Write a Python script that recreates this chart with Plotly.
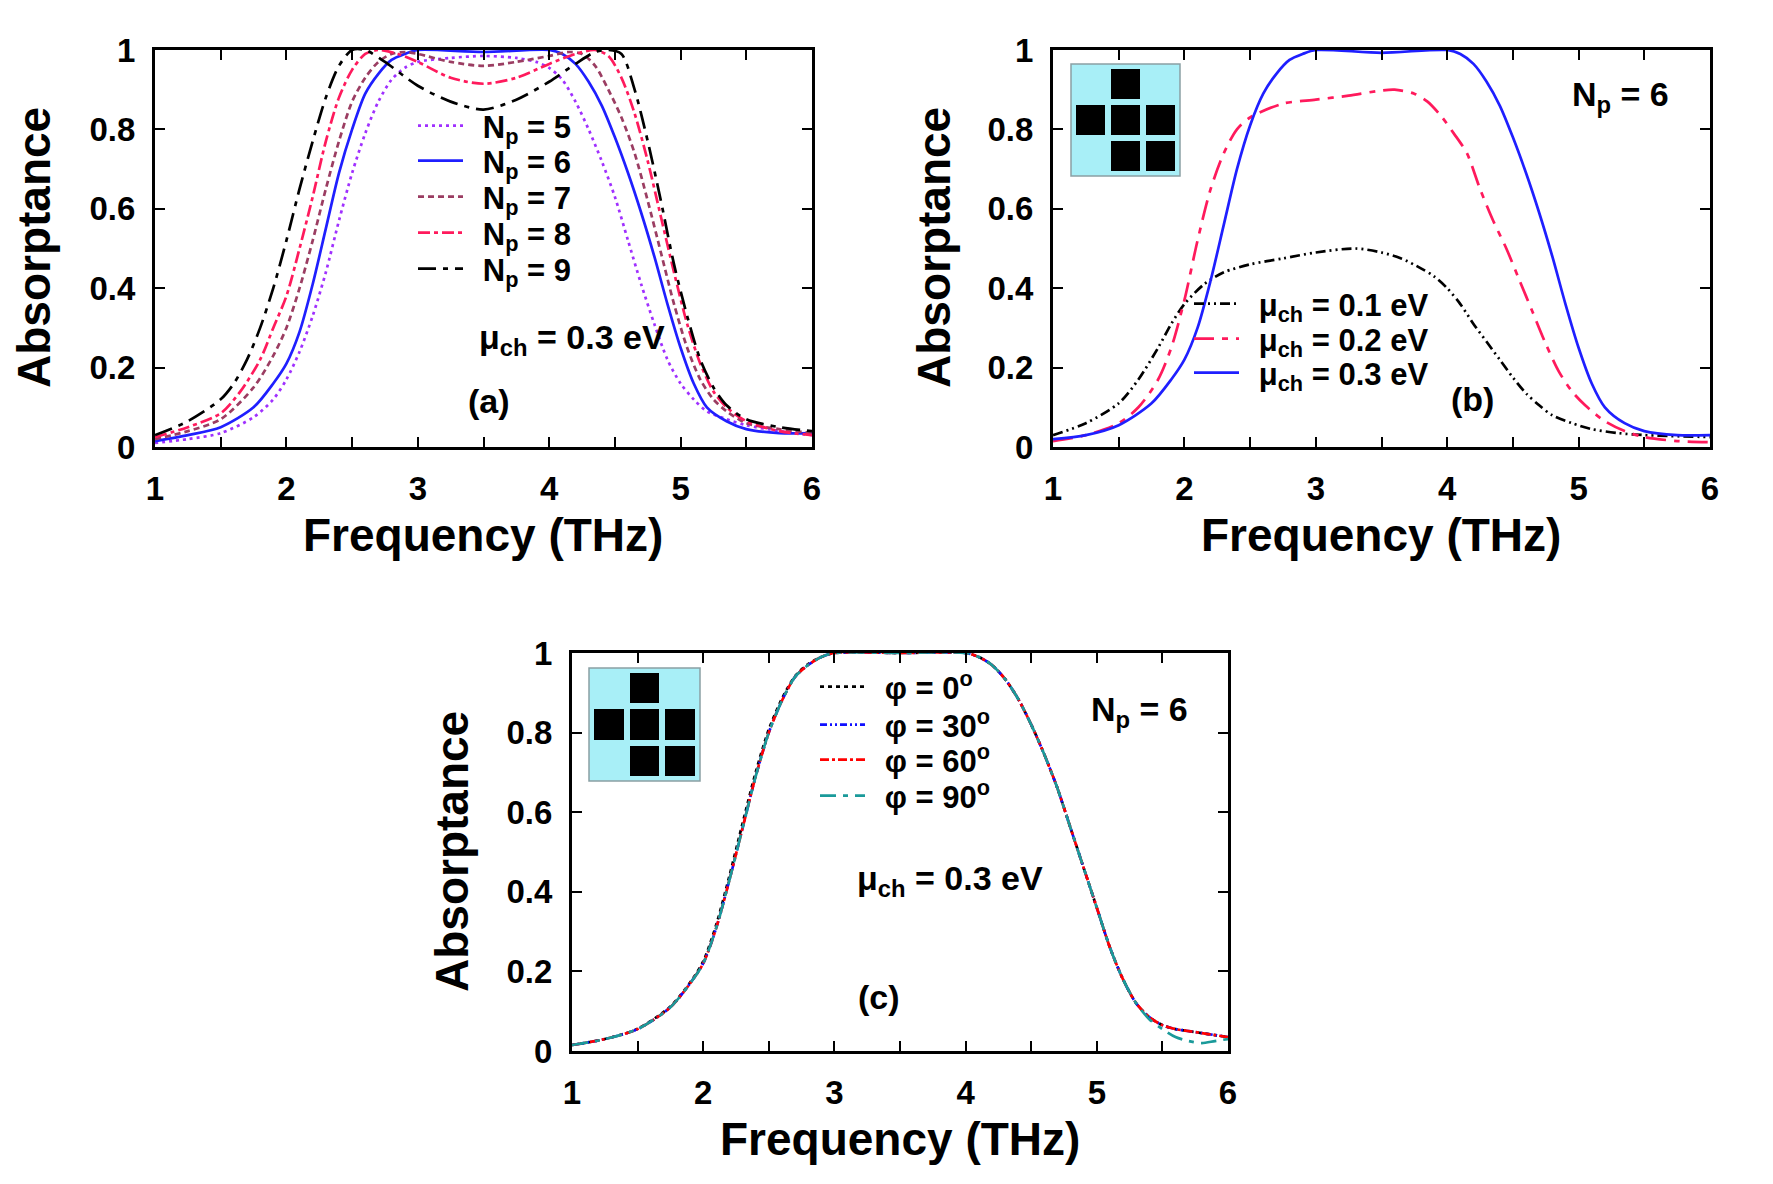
import plotly.graph_objects as go

W, H = 1773, 1184
FONT = "Liberation Sans, Arial, Helvetica, sans-serif"

# ---------------- Panel (a): N_p = 5..9, mu_ch = 0.3 eV ----------------
a_np5_f = [1.0, 1.25, 1.5, 1.75, 1.9, 2.0, 2.1, 2.2, 2.3, 2.4, 2.5, 2.6, 2.7, 2.8, 2.9, 3.0, 3.25, 3.5, 3.75, 3.9, 4.0, 4.1, 4.2, 4.3, 4.4, 4.5, 4.6, 4.7, 4.8, 4.9, 5.0, 5.1, 5.2, 5.35, 5.5, 5.75, 6.0]
a_np5_A = [0.01, 0.02, 0.035, 0.075, 0.12, 0.17, 0.24, 0.33, 0.44, 0.57, 0.69, 0.79, 0.87, 0.925, 0.955, 0.97, 0.98, 0.985, 0.98, 0.97, 0.955, 0.925, 0.87, 0.8, 0.72, 0.63, 0.52, 0.41, 0.31, 0.22, 0.16, 0.12, 0.09, 0.07, 0.055, 0.04, 0.03]

a_np6_f = [1.0, 1.25, 1.5, 1.75, 1.9, 2.0, 2.1, 2.2, 2.3, 2.4, 2.5, 2.6, 2.7, 2.8, 2.9, 3.0, 3.5, 4.0, 4.1, 4.2, 4.3, 4.4, 4.5, 4.6, 4.7, 4.8, 4.9, 5.0, 5.1, 5.2, 5.35, 5.5, 5.75, 6.0]
a_np6_A = [0.015, 0.03, 0.05, 0.1, 0.16, 0.21, 0.29, 0.41, 0.55, 0.69, 0.8, 0.89, 0.94, 0.975, 0.99, 1.0, 0.995, 1.0, 0.99, 0.965, 0.92, 0.86, 0.78, 0.69, 0.59, 0.48, 0.36, 0.25, 0.16, 0.1, 0.065, 0.045, 0.035, 0.035]

a_np7_f = [1.0, 1.25, 1.5, 1.75, 1.9, 2.0, 2.1, 2.2, 2.3, 2.4, 2.5, 2.6, 2.7, 2.8, 2.9, 3.0, 3.25, 3.5, 3.75, 4.0, 4.15, 4.25, 4.35, 4.45, 4.55, 4.65, 4.75, 4.85, 4.95, 5.05, 5.15, 5.25, 5.35, 5.5, 5.75, 6.0]
a_np7_A = [0.02, 0.04, 0.07, 0.15, 0.23, 0.3, 0.4, 0.52, 0.65, 0.77, 0.87, 0.93, 0.97, 0.99, 0.995, 0.99, 0.97, 0.96, 0.97, 0.985, 0.995, 0.99, 0.96, 0.9, 0.83, 0.74, 0.62, 0.49, 0.36, 0.25, 0.17, 0.12, 0.09, 0.06, 0.045, 0.035]

a_np8_f = [1.0, 1.25, 1.5, 1.65, 1.8, 1.9, 2.0, 2.1, 2.2, 2.3, 2.4, 2.5, 2.6, 2.7, 2.85, 3.0, 3.25, 3.5, 3.75, 4.0, 4.2, 4.35, 4.45, 4.55, 4.65, 4.75, 4.85, 4.95, 5.05, 5.15, 5.25, 5.35, 5.5, 5.75, 6.0]
a_np8_A = [0.025, 0.05, 0.085, 0.14, 0.22, 0.3, 0.38, 0.5, 0.63, 0.77, 0.88, 0.95, 0.99, 1.0, 0.99, 0.97, 0.93, 0.915, 0.93, 0.965, 0.99, 1.0, 0.985, 0.93, 0.84, 0.72, 0.58, 0.44, 0.31, 0.21, 0.14, 0.1, 0.065, 0.04, 0.03]

a_np9_f = [1.0, 1.25, 1.5, 1.6, 1.7, 1.8, 1.9, 2.0, 2.1, 2.2, 2.3, 2.4, 2.5, 2.6, 2.75, 3.0, 3.25, 3.5, 3.75, 4.0, 4.2, 4.35, 4.45, 4.55, 4.65, 4.75, 4.85, 4.95, 5.05, 5.15, 5.25, 5.35, 5.5, 5.75, 6.0]
a_np9_A = [0.03, 0.065, 0.12, 0.16, 0.22, 0.3, 0.4, 0.52, 0.65, 0.77, 0.88, 0.96, 1.0, 1.0, 0.97, 0.91, 0.87, 0.85, 0.875, 0.92, 0.965, 0.995, 1.0, 0.99, 0.9, 0.77, 0.62, 0.46, 0.33, 0.22, 0.15, 0.105, 0.07, 0.05, 0.04]

# ---------------- Panel (b): N_p = 6, mu_ch = 0.1 / 0.2 / 0.3 eV ----------------
b_mu1_f = [1.0, 1.25, 1.5, 1.65, 1.8, 1.9, 2.0, 2.15, 2.3, 2.5, 2.75, 3.0, 3.3, 3.5, 3.65, 3.8, 3.9, 4.0, 4.1, 4.2, 4.3, 4.4, 4.5, 4.6, 4.7, 4.8, 4.95, 5.1, 5.3, 5.5, 6.0]
b_mu1_A = [0.03, 0.06, 0.11, 0.17, 0.25, 0.31, 0.36, 0.41, 0.44, 0.46, 0.475, 0.49, 0.5, 0.49, 0.475, 0.45, 0.43, 0.4, 0.36, 0.31, 0.265, 0.22, 0.175, 0.135, 0.105, 0.08, 0.06, 0.045, 0.035, 0.03, 0.025]

b_mu2_f = [1.0, 1.25, 1.5, 1.65, 1.8, 1.9, 2.0, 2.1, 2.2, 2.3, 2.4, 2.5, 2.75, 3.0, 3.25, 3.5, 3.6, 3.75, 3.85, 3.95, 4.05, 4.15, 4.25, 4.35, 4.45, 4.55, 4.65, 4.75, 4.85, 4.95, 5.05, 5.2, 5.35, 5.5, 5.75, 6.0]
b_mu2_A = [0.015, 0.03, 0.06, 0.1, 0.17, 0.25, 0.37, 0.52, 0.65, 0.74, 0.8, 0.83, 0.865, 0.875, 0.885, 0.898, 0.9, 0.89, 0.87, 0.835, 0.79, 0.74, 0.65, 0.57, 0.5, 0.42, 0.34, 0.26, 0.19, 0.14, 0.105, 0.065, 0.04, 0.025, 0.015, 0.012]

b_mu3_f = [1.0, 1.25, 1.5, 1.75, 1.9, 2.0, 2.1, 2.2, 2.3, 2.4, 2.5, 2.6, 2.7, 2.8, 2.9, 3.0, 3.5, 4.0, 4.1, 4.2, 4.3, 4.4, 4.5, 4.6, 4.7, 4.8, 4.9, 5.0, 5.1, 5.2, 5.35, 5.5, 5.75, 6.0]
b_mu3_A = [0.02, 0.03, 0.055, 0.11, 0.17, 0.22, 0.3, 0.42, 0.56, 0.7, 0.81, 0.89, 0.94, 0.975, 0.99, 1.0, 0.993, 1.0, 0.99, 0.965, 0.92, 0.86, 0.78, 0.69, 0.59, 0.48, 0.36, 0.25, 0.16, 0.1, 0.06, 0.04, 0.03, 0.03]

# ---------------- Panel (c): N_p = 6, mu_ch = 0.3 eV, phi = 0/30/60/90 deg ----------------
c_f = [1.0, 1.25, 1.5, 1.75, 1.9, 2.0, 2.1, 2.2, 2.3, 2.4, 2.5, 2.6, 2.7, 2.8, 2.9, 3.0, 3.5, 4.0, 4.1, 4.2, 4.3, 4.4, 4.5, 4.6, 4.7, 4.8, 4.9, 5.0, 5.1, 5.2, 5.3, 5.4, 5.5, 5.6, 5.7, 5.8, 5.9, 6.0]
c_phi0_A = [0.015, 0.03, 0.056, 0.112, 0.172, 0.225, 0.318, 0.44, 0.572, 0.7, 0.808, 0.885, 0.942, 0.972, 0.99, 1.0, 1.0, 1.0, 0.99, 0.97, 0.935, 0.885, 0.82, 0.745, 0.66, 0.56, 0.46, 0.36, 0.26, 0.18, 0.12, 0.085, 0.065, 0.055, 0.05, 0.045, 0.04, 0.035]
c_phi30_A = [0.015, 0.03, 0.055, 0.11, 0.17, 0.22, 0.31, 0.43, 0.56, 0.69, 0.8, 0.88, 0.94, 0.97, 0.99, 1.0, 1.0, 1.0, 0.99, 0.97, 0.935, 0.885, 0.82, 0.745, 0.66, 0.56, 0.46, 0.36, 0.26, 0.18, 0.12, 0.085, 0.065, 0.055, 0.05, 0.045, 0.04, 0.035]
c_phi60_A = [0.015, 0.03, 0.055, 0.11, 0.17, 0.22, 0.31, 0.43, 0.56, 0.69, 0.8, 0.88, 0.94, 0.97, 0.99, 1.0, 1.0, 1.0, 0.99, 0.97, 0.935, 0.885, 0.82, 0.745, 0.66, 0.56, 0.46, 0.36, 0.26, 0.18, 0.12, 0.085, 0.065, 0.055, 0.05, 0.045, 0.04, 0.035]
c_phi90_A = [0.015, 0.03, 0.055, 0.11, 0.17, 0.22, 0.31, 0.43, 0.56, 0.69, 0.8, 0.88, 0.94, 0.97, 0.99, 1.0, 1.0, 1.0, 0.99, 0.97, 0.935, 0.885, 0.82, 0.745, 0.66, 0.56, 0.46, 0.36, 0.26, 0.18, 0.12, 0.08, 0.055, 0.035, 0.025, 0.02, 0.025, 0.03]

# unit-cell pattern of the inset (1 = graphene patch)
pattern = [[0, 1, 0],
           [1, 1, 1],
           [0, 1, 1]]

x_tickvals = [1, 1.5, 2, 2.5, 3, 3.5, 4, 4.5, 5, 5.5, 6]
x_ticktext = ["1", "", "2", "", "3", "", "4", "", "5", "", "6"]
y_tickvals = [0, 0.2, 0.4, 0.6, 0.8, 1]
y_ticktext = ["0", "0.2", "0.4", "0.6", "0.8", "1"]

CRIMSON = "#ff1a5c"
BLUE = "#1f1fff"
VIOLET = "#a030ff"
MAUVE = "#9b3d62"
TEAL = "#1a9a9a"


def px_x(x):
    return x / W


def px_y(y):
    return 1 - y / H


fig = go.Figure()
legend_defs = []
GAP = "\u00a0\u2009"
legend_font = dict(family=FONT, size=31, color="black", weight="bold")


def add_line(f, A, name, color, dash, xa, ya, lx, ly, width=2.7):
    lid = "legend" if not legend_defs else "legend%d" % (len(legend_defs) + 1)
    legend_defs.append((lid, lx, ly))
    fig.add_trace(go.Scatter(
        x=f, y=A, mode="lines", name=GAP + name,
        line=dict(color=color, dash=dash, width=width, shape="spline", smoothing=0.8),
        xaxis=xa, yaxis=ya, legend=lid))


# panel a (legend rows in pixels)
add_line(a_np5_f, a_np5_A, "N<sub>p</sub> = 5", VIOLET, "3px,4px", "x", "y", 413, 126)
add_line(a_np6_f, a_np6_A, "N<sub>p</sub> = 6", BLUE, "solid", "x", "y", 413, 161)
add_line(a_np7_f, a_np7_A, "N<sub>p</sub> = 7", MAUVE, "6px,4px", "x", "y", 413, 197)
add_line(a_np8_f, a_np8_A, "N<sub>p</sub> = 8", CRIMSON, "12px,4px,4px,4px", "x", "y", 413, 233)
add_line(a_np9_f, a_np9_A, "N<sub>p</sub> = 9", "black", "18px,7px,5px,7px", "x", "y", 413, 269)

# panel b
add_line(b_mu1_f, b_mu1_A, "\u03bc<sub>ch</sub> = 0.1 eV", "black", "10px,4px,2px,4px,2px,4px", "x2", "y2", 1189, 304)
add_line(b_mu2_f, b_mu2_A, "\u03bc<sub>ch</sub> = 0.2 eV", CRIMSON, "20px,8px,6px,8px", "x2", "y2", 1189, 339)
add_line(b_mu3_f, b_mu3_A, "\u03bc<sub>ch</sub> = 0.3 eV", BLUE, "solid", "x2", "y2", 1189, 373)

# panel c
add_line(c_f, c_phi0_A, "\u03c6 = 0<sup>o</sup>", "black", "4px,4px", "x3", "y3", 815, 687)
add_line(c_f, c_phi30_A, "\u03c6 = 30<sup>o</sup>", "#1010ff", "7px,3px,2px,3px,2px,3px", "x3", "y3", 815, 725)
add_line(c_f, c_phi60_A, "\u03c6 = 60<sup>o</sup>", "#ff0000", "9px,3px,3px,3px", "x3", "y3", 815, 760)
add_line(c_f, c_phi90_A, "\u03c6 = 90<sup>o</sup>", TEAL, "16px,7px,5px,7px", "x3", "y3", 815, 796)

# insets (unit-cell pattern)
z_pattern = [[1 if v else None for v in row] for row in pattern]
for xa, ya in (("x4", "y4"), ("x5", "y5")):
    fig.add_trace(go.Heatmap(z=z_pattern, xaxis=xa, yaxis=ya, showscale=False,
                             colorscale=[[0, "black"], [1, "black"]], xgap=6, ygap=6,
                             hoverinfo="skip", showlegend=False))

# ---------------- layout ----------------
panels = {
    "a": dict(x0=155, x1=812, y0=50, y1=447),
    "b": dict(x0=1053, x1=1710, y0=50, y1=447),
    "c": dict(x0=572, x1=1228, y0=653, y1=1051),
}

tickfont = dict(family=FONT, size=33, color="black", weight="bold")


def xaxis_cfg(p, anchor):
    return dict(domain=[px_x(p["x0"]), px_x(p["x1"])], range=[1, 6], anchor=anchor,
                tickvals=x_tickvals, ticktext=x_ticktext, ticks="inside", ticklen=10,
                tickwidth=2, tickcolor="black", showline=True, linewidth=3, linecolor="black",
                mirror="allticks", showgrid=False, zeroline=False, tickfont=tickfont,
                ticklabelstandoff=10, automargin=False, fixedrange=True)


def yaxis_cfg(p, anchor):
    return dict(domain=[px_y(p["y1"]), px_y(p["y0"])], range=[0, 1], anchor=anchor,
                tickvals=y_tickvals, ticktext=y_ticktext, ticks="inside", ticklen=10,
                tickwidth=2, tickcolor="black", showline=True, linewidth=3, linecolor="black",
                mirror="allticks", showgrid=False, zeroline=False, tickfont=tickfont,
                ticklabelstandoff=10, automargin=False, fixedrange=True)


insets = {
    "4": dict(x0=1071, x1=1180, y0=64, y1=176),
    "5": dict(x0=589, x1=700, y0=668, y1=781),
}

layout = dict(
    width=W, height=H, margin=dict(l=0, r=0, t=0, b=0),
    paper_bgcolor="white", plot_bgcolor="rgba(0,0,0,0)",
    font=dict(family=FONT, color="black"),
    xaxis=xaxis_cfg(panels["a"], "y"), yaxis=yaxis_cfg(panels["a"], "x"),
    xaxis2=xaxis_cfg(panels["b"], "y2"), yaxis2=yaxis_cfg(panels["b"], "x2"),
    xaxis3=xaxis_cfg(panels["c"], "y3"), yaxis3=yaxis_cfg(panels["c"], "x3"),
    showlegend=True,
)
for lid, lx, ly in legend_defs:
    layout[lid] = dict(x=px_x(lx), y=px_y(ly), xanchor="left", yanchor="middle",
                       bgcolor="rgba(0,0,0,0)", borderwidth=0, font=legend_font,
                       itemwidth=45, itemclick=False, itemdoubleclick=False)
for k, ip in insets.items():
    layout["xaxis" + k] = dict(domain=[px_x(ip["x0"] + 2), px_x(ip["x1"] - 2)], anchor="y" + k,
                               visible=False, range=[-0.5, 2.5], fixedrange=True)
    layout["yaxis" + k] = dict(domain=[px_y(ip["y1"] - 2), px_y(ip["y0"] + 2)], anchor="x" + k,
                               visible=False, range=[2.5, -0.5], fixedrange=True)
fig.update_layout(**layout)

shapes = []
for k, ip in insets.items():
    shapes.append(dict(type="rect", xref="paper", yref="paper",
                       x0=px_x(ip["x0"]), x1=px_x(ip["x1"]), y0=px_y(ip["y1"]), y1=px_y(ip["y0"]),
                       fillcolor="#a8eff7", line=dict(color="#8aa0a4", width=1.5), layer="below"))
fig.update_layout(shapes=shapes)

ann_font = dict(family=FONT, size=34, color="black", weight="bold")
title_font = dict(family=FONT, size=46, color="black", weight="bold")
anns = []


def ann(text, xpx, ypx, font=ann_font, angle=0):
    anns.append(dict(text=text, x=px_x(xpx), y=px_y(ypx), xref="paper", yref="paper",
                     showarrow=False, font=font, textangle=angle, xanchor="center", yanchor="middle"))


# axis titles
ann("Frequency (THz)", 483, 535, title_font)
ann("Frequency (THz)", 1381, 535, title_font)
ann("Frequency (THz)", 900, 1139, title_font)
ann("Absorptance", 34, 248, title_font, -90)
ann("Absorptance", 934, 248, title_font, -90)
ann("Absorptance", 452, 852, title_font, -90)

# in-panel labels
ann("\u03bc<sub>ch</sub> = 0.3 eV", 572, 339)
ann("(a)", 489, 401)
ann("N<sub>p</sub> = 6", 1620, 97)
ann("(b)", 1472, 399)
ann("N<sub>p</sub> = 6", 1139, 711)
ann("\u03bc<sub>ch</sub> = 0.3 eV", 950, 880)
ann("(c)", 879, 997)

fig.update_layout(annotations=anns)

fig.write_html("out.html")
